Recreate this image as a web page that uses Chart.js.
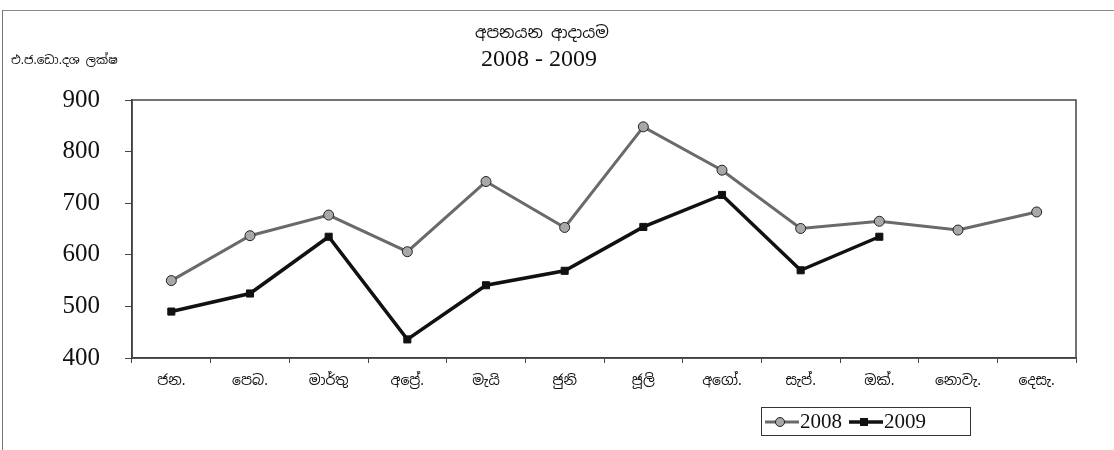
<!DOCTYPE html>
<html>
<head>
<meta charset="utf-8">
<script src="https://cdn.jsdelivr.net/npm/chart.js@4"></script>
<style>
  body { margin: 0; background: #fff; }
  #wrap { position: relative; width: 1114px; height: 450px; overflow: hidden; }
  #frame { position: absolute; left: 2px; top: 10px; width: 1120px; height: 450px;
           border-left: 1px solid #777; border-top: 1px solid #888; }
  .txt { position: absolute; color: #111; white-space: nowrap; }
  #title { left: 542px; top: 22px; transform: translateX(-50%);
           font: 16px "Noto Sans Sinhala", "Iskoola Pota", "Noto Sans", sans-serif; }
  #subtitle { left: 539px; top: 45px; transform: translateX(-50%);
              font: 24px "Liberation Serif", "DejaVu Serif", serif; }
  #unit { left: 11px; top: 52px; font: 12px "Noto Sans Sinhala", "Iskoola Pota", "Noto Sans", sans-serif; }
  #legend { position: absolute; left: 761px; top: 407px; width: 210px; height: 29px;
            border: 1px solid #333; box-sizing: border-box; display: flex; align-items: center;
            font: 21px "Liberation Serif", "DejaVu Serif", serif; color: #111; }
  #legend canvas { display: block; }
  #legend span { margin-right: 4px; }
  canvas#chart { position: absolute; left: 0; top: 0; }
</style>
</head>
<body>
<div id="wrap">
  <div id="frame"></div>
  <canvas id="chart" width="1114" height="450"></canvas>
  <div class="txt" id="title">අපනයන ආදායම</div>
  <div class="txt" id="subtitle">2008 - 2009</div>
  <div class="txt" id="unit">එ.ජ.ඩො.දශ ලක්ෂ</div>
  <div id="legend">
    <canvas id="leg2008" width="38" height="20"></canvas><span>2008</span>
    <canvas id="leg2009" width="38" height="20"></canvas><span>2009</span>
  </div>
</div>
<script>
// data
const months = ["ජන.", "පෙබ.", "මාර්තු", "අප්‍රේ.", "මැයි", "ජුනි", "ජූලි", "අගෝ.", "සැප්.", "ඔක්.", "නොවැ.", "දෙසැ."];
const exports2008 = [550, 637, 677, 606, 742, 653, 848, 764, 651, 665, 648, 683];
const exports2009 = [490, 525, 635, 436, 541, 569, 654, 716, 570, 635, null, null];
const yTicks = [400, 500, 600, 700, 800, 900];

const serif = '"Liberation Serif", "DejaVu Serif", serif';
const sinhala = '"Noto Sans Sinhala", "Iskoola Pota", "Noto Sans", sans-serif';

// box round the plot area (top/right edges)
const plotBorder = {
  id: "plotBorder",
  afterDatasetsDraw(chart) {
    const a = chart.chartArea;
    const ctx = chart.ctx;
    ctx.save();
    ctx.strokeStyle = "#444";
    ctx.lineWidth = 1.5;
    ctx.strokeRect(a.left, a.top, a.right - a.left, a.bottom - a.top);
    ctx.restore();
  }
};

new Chart(document.getElementById("chart"), {
  type: "line",
  data: {
    labels: months,
    datasets: [
      {
        label: "2008",
        data: exports2008,
        borderColor: "#6a6a6a",
        borderWidth: 3,
        pointStyle: "circle",
        pointRadius: 5,
        pointBackgroundColor: "#a8a8a8",
        pointBorderColor: "#222",
        pointBorderWidth: 1,
        tension: 0
      },
      {
        label: "2009",
        data: exports2009,
        borderColor: "#111",
        borderWidth: 3.5,
        pointStyle: "rect",
        pointRadius: 5,
        pointBackgroundColor: "#111",
        pointBorderColor: "#111",
        pointBorderWidth: 1,
        tension: 0
      }
    ]
  },
  options: {
    responsive: false,
    animation: false,
    layout: { padding: { top: 100, right: 38, left: 0, bottom: 0 } },
    plugins: {
      legend: { display: false },
      tooltip: { enabled: false }
    },
    scales: {
      x: {
        offset: true,
        grid: { drawOnChartArea: false, tickLength: 5, offset: true, color: "#444" },
        border: { color: "#333", width: 1.5 },
        ticks: { color: "#111", padding: 10, font: { family: sinhala, size: 14 }, maxRotation: 0, autoSkip: false },
        afterFit(scale) { scale.height = 92; }
      },
      y: {
        min: 400,
        max: 900,
        afterBuildTicks(scale) { scale.ticks = yTicks.map((v) => ({ value: v })); },
        grid: { drawOnChartArea: false, tickLength: 7, color: "#444" },
        border: { color: "#333", width: 1.5 },
        ticks: { color: "#111", padding: 25, font: { family: serif, size: 25 } },
        afterFit(scale) { scale.width = 132; }
      }
    }
  },
  plugins: [plotBorder]
});

// legend symbols: line with marker, like the original
function drawLegendSymbol(id, lineColor, lineWidth, marker) {
  const ctx = document.getElementById(id).getContext("2d");
  ctx.strokeStyle = lineColor;
  ctx.lineWidth = lineWidth;
  ctx.beginPath();
  ctx.moveTo(3, 10);
  ctx.lineTo(37, 10);
  ctx.stroke();
  if (marker === "circle") {
    ctx.fillStyle = "#a8a8a8";
    ctx.strokeStyle = "#222";
    ctx.lineWidth = 1;
    ctx.beginPath();
    ctx.arc(18, 10, 4.5, 0, Math.PI * 2);
    ctx.fill();
    ctx.stroke();
  } else {
    ctx.fillStyle = "#111";
    ctx.fillRect(14, 6, 8, 8);
  }
}
drawLegendSymbol("leg2008", "#6a6a6a", 3, "circle");
drawLegendSymbol("leg2009", "#111", 3.5, "rect");
</script>
</body>
</html>
